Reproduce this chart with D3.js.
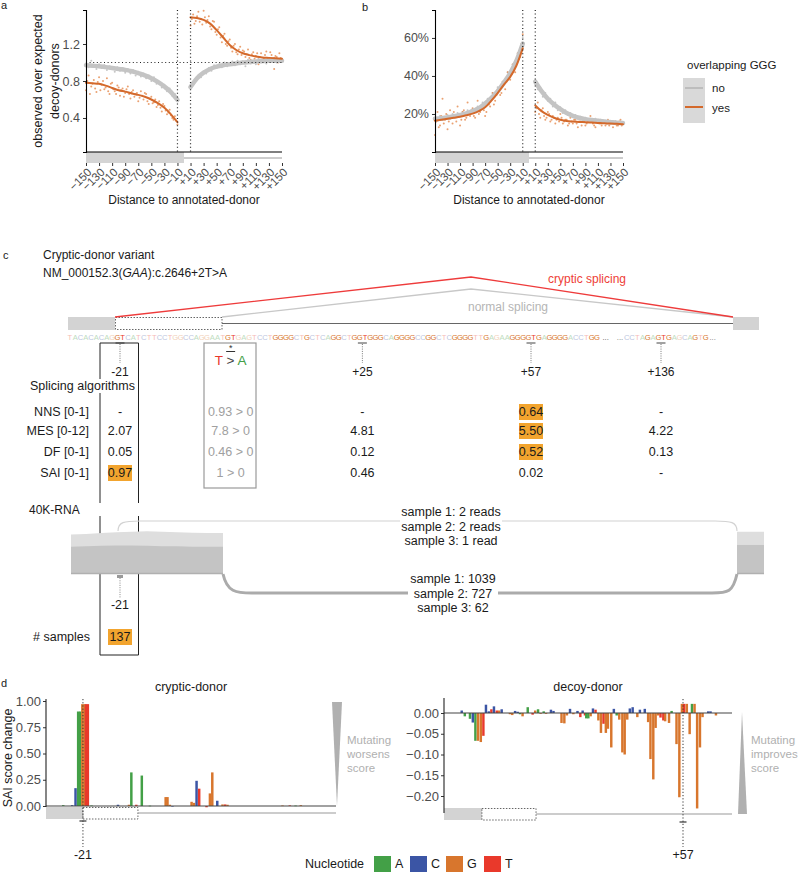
<!DOCTYPE html>
<html><head><meta charset="utf-8">
<script src="https://cdn.jsdelivr.net/npm/d3@7"></script>
<style>body{margin:0;background:#fff} svg text{font-family:"Liberation Sans",Arial,Helvetica,sans-serif}</style>
</head><body><svg id="fig" width="799" height="872"></svg>
<script>
// ---------------- DATA ----------------
const tickValsAB = [-150,-130,-110,-90,-70,-50,-30,-10,10,30,50,70,90,110,130,150];
const curvePosL = [-150,-140,-130,-120,-110,-100,-90,-80,-70,-60,-50,-40,-30,-20,-10];
const curvePosR = [10,20,30,40,50,60,70,80,90,100,110,120,130,140,150];
const aNoLeft  = [0.97,0.965,0.96,0.95,0.94,0.93,0.92,0.905,0.885,0.86,0.83,0.79,0.74,0.68,0.595];
const aYesLeft = [0.78,0.775,0.77,0.75,0.725,0.70,0.685,0.665,0.65,0.63,0.60,0.56,0.51,0.44,0.355];
const aNoRight = [0.735,0.83,0.89,0.93,0.955,0.97,0.98,0.99,1.0,1.005,1.01,1.015,1.02,1.02,1.02];
const aYesRight= [1.49,1.48,1.46,1.42,1.35,1.27,1.19,1.135,1.10,1.08,1.065,1.055,1.05,1.045,1.04];
const bNoLeft  = [17.5,17.8,18.2,18.8,19.5,20.3,21.5,23,25.5,28.5,32,36.5,41.5,48,57];
const bYesLeft = [16.5,17,17.5,18,18.5,19.3,20.2,21.5,23.5,27,31,35.5,39.5,45.5,54.5];
const bNoRight = [37,32,28,25,22.5,20.5,19,18,17.3,16.8,16.4,16,15.7,15.4,15.2];
const bYesRight= [24.5,21.5,19.5,18,17,16.3,16,15.8,15.7,15.5,15.3,15.1,15,14.8,14.6];

const ptPosL  = d3.range(-150,-9,4);   // -150..-10
const ptPosL2 = d3.range(-148,-11,4);  // -148..-12
const ptPosR  = d3.range(10,151,4);    // 10..150
const ptPosR2 = d3.range(12,149,4);    // 12..148
const aYesPtsL  = [0.70,0.86,0.74,0.81,0.68,0.84,0.76,0.71,0.83,0.66,0.78,0.69,0.75,0.64,0.72,0.67,0.74,0.61,0.70,0.66,0.58,0.69,0.60,0.66,0.55,0.63,0.57,0.52,0.58,0.47,0.53,0.44,0.49,0.40,0.42,0.33];
const aYesPtsL2 = [0.80,0.66,0.77,0.72,0.79,0.70,0.80,0.73,0.69,0.77,0.71,0.66,0.73,0.70,0.63,0.71,0.66,0.68,0.63,0.67,0.62,0.64,0.67,0.58,0.61,0.56,0.60,0.54,0.51,0.55,0.48,0.46,0.43,0.38,0.37];
const aYesPtsR  = [1.40,1.52,1.45,1.55,1.47,1.56,1.43,1.50,1.36,1.44,1.30,1.38,1.22,1.31,1.18,1.25,1.12,1.20,1.09,1.17,1.13,1.06,1.14,1.03,1.11,1.07,0.98,1.10,1.04,1.12,1.01,1.08,0.93,1.06,1.10,1.02];
const aYesPtsR2 = [1.47,1.42,1.50,1.44,1.41,1.49,1.46,1.39,1.45,1.33,1.36,1.27,1.29,1.20,1.23,1.16,1.18,1.11,1.14,1.08,1.12,1.09,1.05,1.09,1.04,1.10,1.06,1.02,1.08,1.05,1.11,1.03,1.07,1.00,1.05];
const aNoPtsL = [0.99,0.95,1.02,0.96,0.93,0.98,0.94,0.97,0.92,0.96,0.93,0.90,0.95,0.91,0.94,0.89,0.93,0.88,0.92,0.86,0.90,0.85,0.88,0.83,0.86,0.80,0.84,0.77,0.79,0.73,0.76,0.69,0.72,0.64,0.66,0.58];
const aNoPtsR = [0.72,0.78,0.81,0.86,0.84,0.90,0.88,0.94,0.91,0.97,0.94,0.98,0.95,1.00,0.96,0.99,1.01,0.97,1.02,0.98,1.01,0.96,1.03,0.99,1.02,0.98,1.04,1.00,1.03,0.99,1.04,1.01,1.05,1.00,1.03,1.02];
const bYesPtsL  = [9,21,14,28,17,12,22,15,19,24,14,21,17,26,19,23,18,27,21,25,19,27,24,31,27,33,30,37,33,42,38,46,42,52,50,62];
const bYesPtsL2 = [16,13,19,15,20,16,18,21,16,20,17,22,18,20,22,19,23,20,24,22,21,25,28,25,30,32,31,36,37,39,41,45,47,49,57];
const bYesPtsR  = [21,26,18,23,17,21,16,19,15,18,20,15,17,14,18,15,17,13,16,18,14,16,19,15,13,17,15,16,14,17,15,13,16,14,17,15];
const bYesPtsR2 = [23,20,22,19,18,20,17,18,17,16,18,16,17,15,16,17,15,16,14,16,15,17,16,14,16,15,14,16,15,14,16,15,14,16,14];
const bNoPtsL = [18,16.5,19,17,18.5,19.5,17.5,20,18.5,20.5,19,21,19.5,22,20.5,22.5,21.5,24,23,26,24.5,28,27,31,30,34,33,37,37.5,42,41,46,46,52,53,60];
const bNoPtsR = [36,33,34,29,31,27,28,24,26,22,23.5,20.5,22,19.5,20.5,18.5,19.5,17.5,18.5,17,18,16.5,17.5,16,17.5,16,17,15.5,16.5,15.5,16.5,15,16,14.5,16,15];

// panel c
const seqMain     = "TACACACAGGTCATCTTCCTGGCCAGGAATGTGAGTCCTGGGGCTGCTCAGGCTGGTGGGCAGGGGCCGGCTCGGGGTTGAGAAGGGGTGAGGGGACCTGG";
const seqMainMask = "00000000011000000000000000000011000000011110010000110011111100111100110001111001000011111101111000011";
const seqTail     = "CCTAGAGTGAGCAGTG";
const seqTailMask = "0000101110000101";
const siteCols    = [-21, 0, 25, 57, 136];
const siteLabels  = ["-21", "", "+25", "+57", "+136"];
const algoLabels  = ["NNS [0-1]", "MES [0-12]", "DF [0-1]", "SAI [0-1]"];
const algoValues  = [
  ["-", "0.93 > 0", "-", "0.64", "-"],
  ["2.07", "7.8 > 0", "4.81", "5.50", "4.22"],
  ["0.05", "0.46 > 0", "0.12", "0.52", "0.13"],
  ["0.97", "1 > 0", "0.46", "0.02", "-"]
];
const algoHighlight = [[3],[3],[3],[0]];
const upperReads = ["sample 1: 2 reads", "sample 2: 2 reads", "sample 3: 1 read"];
const lowerReads = ["sample 1: 1039", "sample 2: 727", "sample 3: 62"];
const covPos     = [-30,-27,-24,-21,-18,-15,-12,-9,-6,-3,0];
const covTotal   = [90,91,93,95,96,97,96,95,94,93,93];
const covNormal  = [62,63,64,65,65,64,63,63,62,62,62];
const covRPos    = [0,5];
const covRTotal  = [96,96];
const covRNormal = [66,66];
const nSamples = "137";

// panel d
const crypticPos = [-28.5,-25.1,-23.8,-22.8,-22.0,-21.2,-20.4,-19.8,-19.1,-17.7,-7.6,-3.4,-2.5,-0.6,1.5,4.6,10.6,11.3,12.2,13.2,20.5,21.4,22.4,23.4,26.2,27.5,28.4,30.3,32.3,33.3,34.2,55.2,58.0,60.2,62.2];
const crypticNuc = ["A","C","C","A","A","G","G","T","T","A","C","G","A","T","A","A","G","G","G","C","G","G","C","T","T","G","G","C","G","T","G","G","T","A","G"];
const crypticVal = [0.008,0.008,0.17,0.90,0.90,0.97,0.97,0.97,0.97,0.005,0.012,0.012,0.32,0.012,0.29,0.003,0.085,0.085,0.012,-0.005,0.04,0.03,0.24,0.165,-0.012,0.12,0.32,0.05,0.015,0.015,0.012,0.005,0.006,0.004,0.008];
const decoyPos = [-28.8,-27.6,-25.6,-24.5,-23.5,-22.5,-21.4,-20.4,-19.4,-18.3,-17.3,-16.3,-15.2,-14.3,-13.3,-10.1,-9.2,-8.1,-7.1,-6.2,-5.2,-3.2,-1.3,-0.3,0.8,1.8,3.0,3.9,5.8,6.8,9.9,11.0,12.0,13.2,14.5,16.1,17.2,18.1,19.0,19.5,20.3,21.2,22.1,23.1,24.2,25.2,26.2,27.1,27.9,29.2,30.2,31.3,32.3,33.5,34.4,35.4,36.4,37.5,39.3,40.3,42.2,43.5,44.4,45.5,46.4,47.4,48.3,49.4,50.1,51.6,52.6,54.5,55.6,56.6,57.5,58.5,59.6,60.5,61.5,62.5,63.6,64.6,66.8,67.7,69.8];
const decoyNuc = ["C","A","A","C","A","G","G","T","C","C","T","C","T","G","C","G","G","C","C","A","G","A","T","G","A","G","A","G","C","C","G","G","G","C","G","C","T","C","T","A","A","G","C","T","G","G","T","G","G","G","C","A","G","G","G","G","C","C","G","C","C","G","G","G","G","G","T","T","G","G","A","G","G","G","T","G","G","A","G","G","G","G","C","C","G"];
const decoyVal = [0.006,-0.008,-0.014,-0.023,-0.067,-0.067,-0.070,-0.055,0.020,0.004,0.009,0.016,0.006,0.006,0.009,-0.003,-0.005,0.005,0.003,-0.003,-0.008,0.014,-0.004,0.006,0.009,-0.002,0.004,-0.002,0.008,0.005,-0.024,-0.025,-0.006,0.010,-0.003,0.005,-0.010,0.006,-0.006,-0.013,-0.013,-0.008,0.011,0.008,-0.018,-0.048,-0.026,-0.048,-0.038,-0.083,0.010,-0.006,-0.016,-0.095,-0.100,-0.016,0.011,0.014,-0.010,0.008,0.010,-0.022,-0.111,-0.160,-0.036,-0.006,-0.011,-0.018,-0.020,-0.024,0.005,-0.075,-0.203,0.022,0.022,0.022,-0.051,0.022,0.022,-0.230,-0.083,-0.010,0.004,0.004,-0.006];
const crypticTicks = [0,0.25,0.5,0.75,1];
const decoyTicks = [0,-0.05,-0.1,-0.15,-0.2];
const nucOrder = ["A","C","G","T"];

// ---------------- STYLE ----------------
const COL = {A:"#43A047", C:"#3B55A5", G:"#D8762D", T:"#E9392B"};
const ORANGE = "#D4692B", GREYL = "#C4C4C4", TICKC = "#4d4d4d";
const svg = d3.select("#fig");
svg.append("rect").attr("width",799).attr("height",872).attr("fill","#fff");
function T(x,y,s,o={}){
  const t = svg.append("text").attr("x",x).attr("y",y).text(s)
    .attr("font-size",o.size||12).attr("fill",o.fill||"#1a1a1a")
    .attr("text-anchor",o.anchor||"start");
  if(o.style) t.attr("font-style",o.style);
  return t;
}
function L(x1,y1,x2,y2,stroke,w,dash){
  const l = svg.append("line").attr("x1",x1).attr("y1",y1).attr("x2",x2).attr("y2",y2)
    .attr("stroke",stroke).attr("stroke-width",w||1);
  if(dash) l.attr("stroke-dasharray",dash);
  return l;
}
const fmtSigned = d => d>0 ? "+"+d : "\u2212"+Math.abs(d);

// ---------------- PANELS a & b ----------------
function profile(cfg){
  const x = d3.scaleLinear().domain([-150,150]).range(cfg.xr);
  const y = d3.scaleLinear().domain(cfg.yd).range([152,10]);
  const g = svg.append("g");
  g.append("rect").attr("x",x(-150)).attr("y",152).attr("width",x(0)-x(-150)).attr("height",11).attr("fill","#d4d4d4");
  g.append("line").attr("x1",x(0)).attr("x2",x(150)).attr("y1",158).attr("y2",158).attr("stroke","#9a9a9a");
  const pts = (pos,vals,fill,op) => g.append("g").selectAll("circle").data(pos.map((p,i)=>[p,vals[i]])).join("circle")
      .attr("cx",d=>x(d[0])).attr("cy",d=>y(d[1])).attr("r",1).attr("fill",fill).attr("opacity",op);
  pts(ptPosL,cfg.noPL,"#b8b8b8",0.8); pts(ptPosR,cfg.noPR,"#b8b8b8",0.8);
  pts(ptPosL,cfg.yesPL,"#E58A4E",0.8); pts(ptPosL2,cfg.yesPL2,"#E58A4E",0.8);
  pts(ptPosR,cfg.yesPR,"#E58A4E",0.8); pts(ptPosR2,cfg.yesPR2,"#E58A4E",0.8);
  const line = d3.line().x(d=>x(d[0])).y(d=>y(d[1])).curve(d3.curveMonotoneX);
  const path = (pos,vals,c,w)=>g.append("path").attr("d",line(pos.map((p,i)=>[p,vals[i]]))).attr("fill","none").attr("stroke",c).attr("stroke-width",w).attr("stroke-linecap","round");
  path(curvePosL,cfg.noL,GREYL,4.5); path(curvePosR,cfg.noR,GREYL,4.5);
  path(curvePosL,cfg.yesL,ORANGE,2); path(curvePosR,cfg.yesR,ORANGE,2);
  [-10,10].forEach(v=>g.append("line").attr("x1",x(v)).attr("x2",x(v)).attr("y1",10).attr("y2",152)
     .attr("stroke","#222").attr("stroke-width",1.2).attr("stroke-dasharray","1,2.6"));
  if(cfg.hline!==undefined) g.append("line").attr("x1",x(-150)).attr("x2",x(150)).attr("y1",y(cfg.hline)).attr("y2",y(cfg.hline))
     .attr("stroke","#222").attr("stroke-width",1.2).attr("stroke-dasharray","1,2.6");
  const ya = g.append("g").attr("transform",`translate(${x(-150)},0)`)
    .call(d3.axisLeft(y).tickValues(cfg.yticks).tickFormat(cfg.yfmt).tickSize(3).tickPadding(3));
  ya.select(".domain").attr("stroke","#000").attr("stroke-width",1.1);
  ya.selectAll(".tick line").attr("stroke","#333");
  ya.selectAll("text").attr("font-size",12.5).attr("fill",TICKC).attr("font-family",null);
  g.append("line").attr("x1",x(-150)).attr("x2",x(150)).attr("y1",152).attr("y2",152).attr("stroke","#000").attr("stroke-width",1.1);
  const xa = g.append("g").attr("transform","translate(0,163)")
    .call(d3.axisBottom(x).tickValues(tickValsAB).tickFormat(fmtSigned).tickSize(3));
  xa.select(".domain").remove();
  xa.selectAll(".tick line").attr("stroke","#333");
  xa.selectAll("text").attr("font-size",11.5).attr("fill",TICKC).attr("font-family",null)
    .attr("text-anchor","end").attr("x",0).attr("y",0).attr("dy","0.35em")
    .attr("transform","translate(3,7) rotate(-45)");
  T((cfg.xr[0]+cfg.xr[1])/2,204,"Distance to annotated-donor",{anchor:"middle",size:12});
}
profile({xr:[86,282], yd:[0.0324,1.5676], yticks:[0.4,0.8,1.2], yfmt:d3.format(".1f"), hline:1,
  noL:aNoLeft,noR:aNoRight,yesL:aYesLeft,yesR:aYesRight,noPL:aNoPtsL,noPR:aNoPtsR,
  yesPL:aYesPtsL,yesPL2:aYesPtsL2,yesPR:aYesPtsR,yesPR2:aYesPtsR2});
profile({xr:[435,623], yd:[0,74.7], yticks:[20,40,60], yfmt:d=>d+"%",
  noL:bNoLeft,noR:bNoRight,yesL:bYesLeft,yesR:bYesRight,noPL:bNoPtsL,noPR:bNoPtsR,
  yesPL:bYesPtsL,yesPL2:bYesPtsL2,yesPR:bYesPtsR,yesPR2:bYesPtsR2});
T(1,9,"a",{size:11});
T(362,11,"b",{size:11});
svg.append("text").attr("transform","translate(42,81) rotate(-90)").attr("text-anchor","middle").attr("font-size",12.5).attr("fill","#1a1a1a").text("observed over expected");
svg.append("text").attr("transform","translate(59,81) rotate(-90)").attr("text-anchor","middle").attr("font-size",12.5).attr("fill","#1a1a1a").text("decoy-donors");
T(687,69,"overlapping GGG",{size:11.5});
svg.append("rect").attr("x",683).attr("y",78).attr("width",22).attr("height",45).attr("fill","#d9d9d9");
L(685,88,703,88,"#bdbdbd",2); L(685,107,703,107,ORANGE,2);
T(712,92,"no",{size:11.5}); T(712,112,"yes",{size:11.5});

// ---------------- PANEL c ----------------
T(3,259,"c",{size:11});
T(43,259,"Cryptic-donor variant",{size:12});
const nm = svg.append("text").attr("x",43).attr("y",277).attr("font-size",12).attr("fill","#1a1a1a");
nm.append("tspan").text("NM_000152.3(");
nm.append("tspan").attr("font-style","italic").text("GAA");
nm.append("tspan").text("):c.2646+2T>A");
svg.append("rect").attr("x",68).attr("y",317).attr("width",47).attr("height",13).attr("fill","#d3d3d3");
svg.append("rect").attr("x",115.5).attr("y",317.5).attr("width",106.5).attr("height",12).attr("fill","none").attr("stroke","#666").attr("stroke-dasharray","1.5,1.5");
L(222,323.5,733,323.5,"#666",1.2);
svg.append("rect").attr("x",733).attr("y",317).attr("width",26).attr("height",13).attr("fill","#d3d3d3");
svg.append("polyline").attr("points","222,317 471,289 733,317").attr("fill","none").attr("stroke","#c8c8c8").attr("stroke-width",1.3);
svg.append("polyline").attr("points","115,317 471,277 733,317").attr("fill","none").attr("stroke","#EE3B3B").attr("stroke-width",1.3);
T(587,283,"cryptic splicing",{anchor:"middle",fill:"#EE4036",size:12});
T(508,311,"normal splicing",{anchor:"middle",fill:"#b5b5b5",size:12});
const seqX = d3.scaleLinear().domain([-21,57]).range([120,531]);
const tailX = d3.scaleLinear().domain([136,137]).range([661,666.27]);
const colX = d3.scaleLinear().domain([-21,57,136]).range([120,531,661]);
const seqG = svg.append("g").attr("font-size",7.6).attr("text-anchor","middle");
seqG.selectAll("text.m").data(seqMain.split("")).join("text").attr("class","m")
  .attr("x",(d,i)=>seqX(i-31+0.5)).attr("y",340).text(d=>d).attr("fill",d=>COL[d])
  .attr("opacity",(d,i)=>seqMainMask[i]==="1"?1:0.35);
seqG.selectAll("text.t").data(seqTail.split("")).join("text").attr("class","t")
  .attr("x",(d,i)=>tailX(136+i-7+0.5)).attr("y",340).text(d=>d).attr("fill",d=>COL[d])
  .attr("opacity",(d,i)=>seqTailMask[i]==="1"?1:0.35);
T(seqX(70)+3,340," ...",{size:7.6,fill:"#555"});
T(tailX(129)-1,340,"...",{size:7.6,fill:"#777",anchor:"end"});
T(tailX(145)+1,340,"...",{size:7.6,fill:"#777"});
siteCols.forEach((c,i)=>{
  const x = colX(c);
  if(c===0){
    T(x,351,"*",{anchor:"middle",size:9,fill:"#333"});
    L(x-4.5,351.5,x+4.5,351.5,"#333",1);
    const ta = svg.append("text").attr("x",x).attr("y",365).attr("text-anchor","middle").attr("font-size",13.5);
    ta.append("tspan").attr("fill","#E9392B").text("T");
    ta.append("tspan").attr("fill","#444").text(" > ");
    ta.append("tspan").attr("fill","#43A047").text("A");
  } else {
    L(x-4.5,343,x+4.5,343,"#444",1);
    L(x,344,x,363,"#777",1,"1,1.3");
    T(x,376,siteLabels[i],{anchor:"middle",size:12});
  }
});
L(100,343,138.5,343,"#222",1);
L(138.5,343,138.5,503,"#222",1); L(100,343,100,503,"#222",1);
L(100,516,100,655,"#222",1); L(138.5,516,138.5,655,"#222",1); L(100,655,138.5,655,"#222",1);
svg.append("rect").attr("x",204).attr("y",343).attr("width",52).attr("height",145).attr("fill","none").attr("stroke","#9a9a9a").attr("stroke-width",1.2);
svg.append("rect").attr("x",28).attr("y",379).attr("width",104).attr("height",14).attr("fill","#fff");
T(30,390,"Splicing algorithms",{size:12.5});
const rowY = [416,435,456,477];
algoLabels.forEach((lab,r)=>{
  T(89,rowY[r],lab,{anchor:"end",size:12.5});
  algoValues[r].forEach((v,c)=>{
    const x = colX(siteCols[c]);
    if(algoHighlight[r].includes(c)){
      svg.append("rect").attr("x",x-12).attr("y",rowY[r]-12).attr("width",24).attr("height",16).attr("fill","#F2A42E");
    }
    T(x,rowY[r],v,{anchor:"middle",size:12.5,fill:c===1?"#a0a0a0":"#1a1a1a"});
  });
});
T(29,514,"40K-RNA",{size:12});
const yCov = d3.scaleLinear().domain([0,100]).range([574,530]);
const covXL = d3.scaleLinear().domain([-30,0]).range([71,223]);
const covXR = d3.scaleLinear().domain([0,5]).range([737,764]);
const area = (sx,top)=>d3.area().x(d=>sx(d[0])).y0(yCov(0)).y1(d=>yCov(d[1]))(top);
svg.append("path").attr("d",area(covXL,covPos.map((p,i)=>[p,covTotal[i]]))).attr("fill","#dedede");
svg.append("path").attr("d",area(covXL,covPos.map((p,i)=>[p,covNormal[i]]))).attr("fill","#c4c4c4");
svg.append("path").attr("d",area(covXR,covRPos.map((p,i)=>[p,covRTotal[i]]))).attr("fill","#dedede");
svg.append("path").attr("d",area(covXR,covRPos.map((p,i)=>[p,covRNormal[i]]))).attr("fill","#c4c4c4");
L(71,573.5,223,573.5,"#b0b0b0",1.5); L(737,573.5,764,573.5,"#b0b0b0",1.5);
svg.append("path").attr("d","M118,531 C118,522 124,521 140,521 L715,521 C731,521 737,522 737,531").attr("fill","none").attr("stroke","#d2d2d2").attr("stroke-width",1.1);
svg.append("path").attr("d","M223,574 C227,592 236,593 252,593 L712,593 C728,593 733,592 737,574").attr("fill","none").attr("stroke","#ababab").attr("stroke-width",3);
svg.append("rect").attr("x",400).attr("y",503).attr("width",102).attr("height",42).attr("fill","#fff");
svg.append("rect").attr("x",408).attr("y",570).attr("width",90).attr("height",44).attr("fill","#fff");
upperReads.forEach((s,i)=>T(451,516+i*14.5,s,{anchor:"middle",size:12.5}));
lowerReads.forEach((s,i)=>T(453,583+i*14.5,s,{anchor:"middle",size:12.5}));
svg.append("rect").attr("x",117).attr("y",575).attr("width",6).attr("height",3).attr("fill","#999");
L(120,578,120,598,"#888",1,"1,1.3");
T(120,609,"-21",{anchor:"middle",size:12.5});
T(90,641,"# samples",{anchor:"end",size:12.5});
svg.append("rect").attr("x",108).attr("y",629).attr("width",24).attr("height",16).attr("fill","#F2A42E");
T(120,641,nSamples,{anchor:"middle",size:12.5});

// ---------------- PANEL d ----------------
T(1,687,"d",{size:11});
function barPanel(cfg){
  const x = d3.scaleLinear().domain(cfg.xd).range(cfg.xr);
  const y = d3.scaleLinear().domain(cfg.yd).range(cfg.yr);
  const bw = x(1)-x(0);
  const data = cfg.pos.map((p,i)=>({p, n:cfg.nuc[i], v:cfg.val[i]}));
  svg.append("rect").attr("x",cfg.xr[0]).attr("y",cfg.gy).attr("width",x(-21)-cfg.xr[0]).attr("height",12).attr("fill","#d3d3d3");
  svg.append("rect").attr("x",x(-21)).attr("y",cfg.gy+0.5).attr("width",x(0)-x(-21)).attr("height",11.5).attr("fill","none").attr("stroke","#666").attr("stroke-dasharray","1.5,1.5");
  L(x(0),cfg.gy+6,cfg.xr[1],cfg.gy+6,"#999",1.2);
  svg.append("g").selectAll("rect").data(data).join("rect")
    .attr("x",d=>x(d.p)-bw/2).attr("width",bw*0.95)
    .attr("y",d=>Math.min(y(d.v),y(0))).attr("height",d=>Math.max(0.6,Math.abs(y(d.v)-y(0))))
    .attr("fill",d=>COL[d.n]);
  L(cfg.xr[0],y(0),cfg.xr[1],y(0),"#444",1.2);
  const ya = svg.append("g").attr("transform",`translate(${cfg.xr[0]},0)`)
    .call(d3.axisLeft(y).tickValues(cfg.ticks).tickFormat(d3.format(".2f")).tickSize(3).tickPadding(2));
  ya.select(".domain").remove();
  ya.selectAll(".tick line").attr("stroke","#333");
  ya.selectAll("text").attr("font-size",13).attr("fill",TICKC).attr("font-family",null);
  L(cfg.xr[0],cfg.axTop,cfg.xr[0],cfg.axBot,"#222",1.1);
  L(x(cfg.mark),699,x(cfg.mark),cfg.markBot,"#333",1,"1.2,2");
  L(x(cfg.mark)-3.5,cfg.gy+14,x(cfg.mark)+3.5,cfg.gy+14,"#333",1.2);
  T(x(cfg.mark),cfg.markBot+12,cfg.markLabel,{anchor:"middle",size:12.5});
  T((cfg.xr[0]+cfg.xr[1])/2,691,cfg.title,{anchor:"middle",size:12.5});
}
barPanel({xd:[-35.1,75.6], xr:[46,336], yd:[0,1], yr:[806,701], ticks:crypticTicks, pos:crypticPos, nuc:crypticNuc, val:crypticVal,
  gy:807, axTop:699, axBot:807, mark:-21, markBot:847, markLabel:"-21", title:"cryptic-donor"});
barPanel({xd:[-35.7,76], xr:[444,732], yd:[-0.2,0], yr:[796,713], ticks:decoyTicks, pos:decoyPos, nuc:decoyNuc, val:decoyVal,
  gy:808, axTop:698, axBot:813, mark:57, markBot:847, markLabel:"+57", title:"decoy-donor"});
svg.append("text").attr("transform","translate(12,758) rotate(-90)").attr("text-anchor","middle").attr("font-size",12.5).attr("fill","#1a1a1a").text("SAI score change");
svg.append("polygon").attr("points","332,702 342,702 337,806").attr("fill","#b0b0b0");
svg.append("polygon").attr("points","742,712 738,814 747,814").attr("fill","#b0b0b0");
["Mutating","worsens","score"].forEach((s,i)=>T(347,744+i*14,s,{size:11.5,fill:"#b0b0b0"}));
["Mutating","improves","score"].forEach((s,i)=>T(751,744+i*14,s,{size:11.5,fill:"#b0b0b0"}));
T(305,868,"Nucleotide",{size:12.5});
const legX = [374,410,446,484];
nucOrder.forEach((n,i)=>{
  svg.append("rect").attr("x",legX[i]).attr("y",856).attr("width",17).attr("height",17).attr("fill",COL[n]);
  T(legX[i]+21,868,n,{size:12.5});
});
</script></body></html>
